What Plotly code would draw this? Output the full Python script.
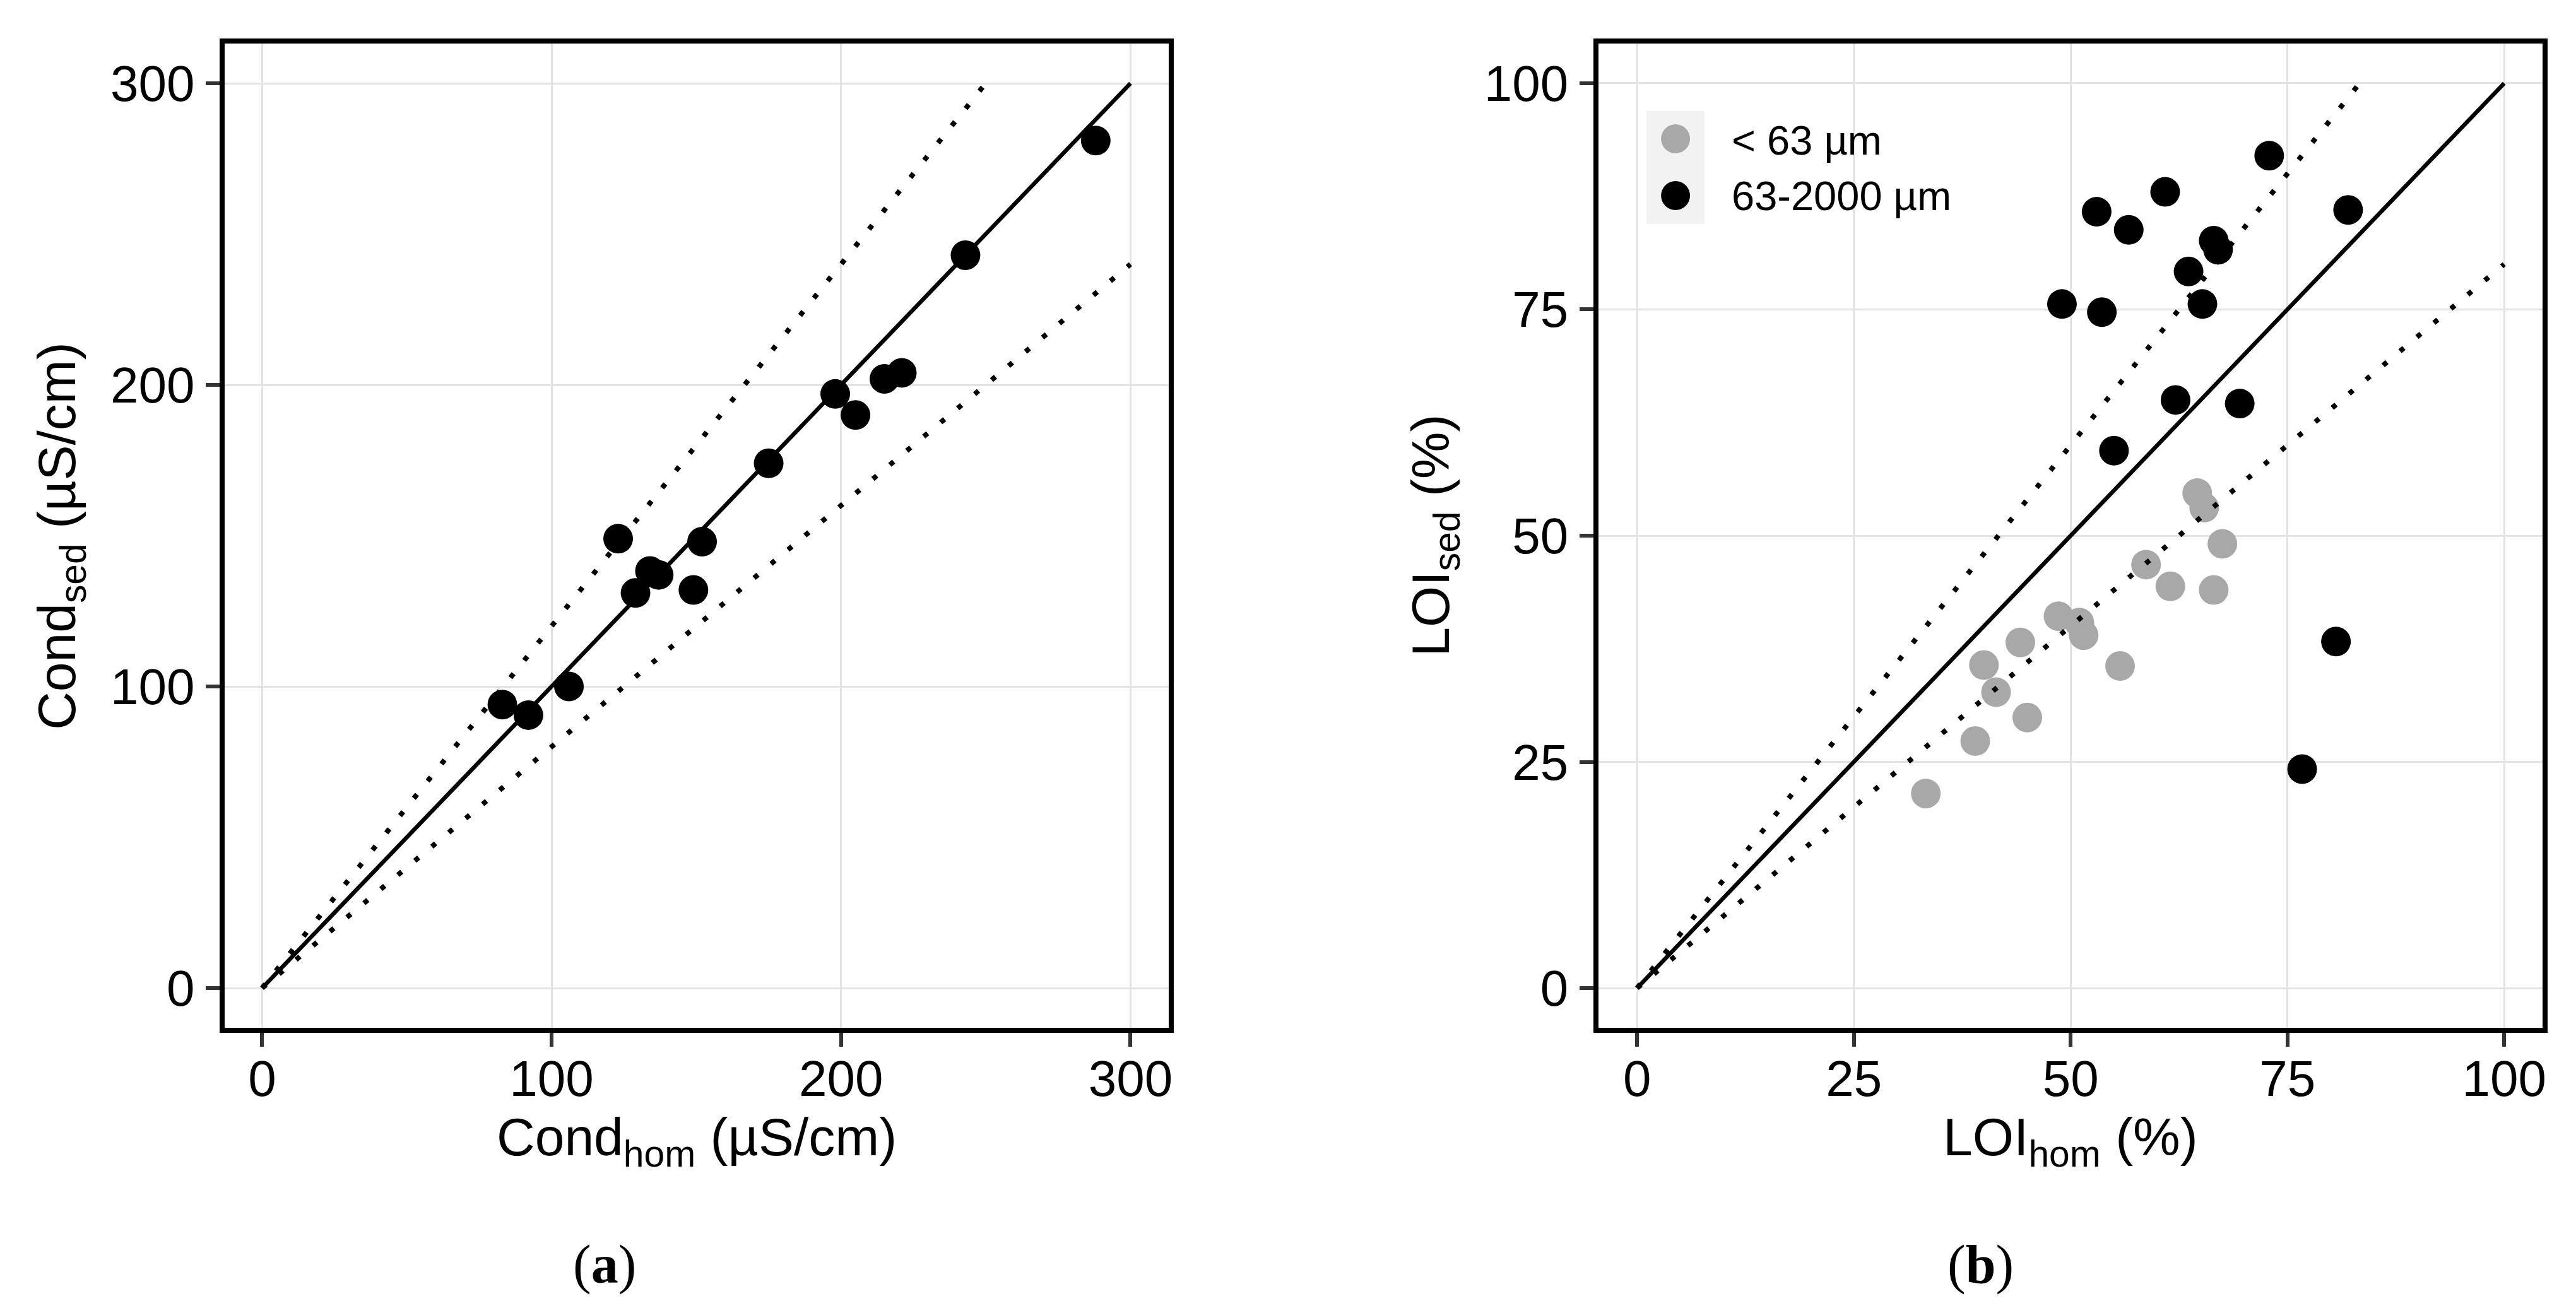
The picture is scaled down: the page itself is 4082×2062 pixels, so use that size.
import plotly.graph_objects as go

# panel (a): conductivity, homogenised vs sediment
cond_hom = [83, 92, 106, 123, 129, 134, 137, 149, 152, 175, 198, 205, 215, 221, 243, 288]
cond_sed = [94, 90.5, 100, 149, 131, 138.3, 137, 132, 148, 174, 197, 190, 202, 204, 243, 281]

# panel (b): loss on ignition, two size fractions
loi_hom_fine = [64.6, 65.4, 67.5, 58.7, 61.5, 66.5, 48.6, 51.0, 51.5, 44.2, 40.0, 55.7, 41.4, 45.0, 39.0, 33.3]
loi_sed_fine = [54.7, 53.1, 49.1, 46.8, 44.4, 44.0, 41.1, 40.4, 39.0, 38.2, 35.7, 35.6, 32.7, 29.9, 27.3, 21.5]
loi_hom_coarse = [72.9, 60.9, 53.0, 82.0, 56.7, 66.5, 67.0, 63.6, 49.0, 65.2, 53.6, 62.1, 69.5, 55.0, 80.6, 76.7]
loi_sed_coarse = [92.0, 88.0, 85.8, 86.0, 83.8, 82.6, 81.6, 79.2, 75.6, 75.6, 74.7, 65.0, 64.6, 59.4, 38.3, 24.2]

# reference lines (1:1 and +/-20 %)
ref_a = [0, 300]
upper_a = [0, 250]
lower_a = [0, 300]
ref_b = [0, 100]
upper_b = [0, 100 / 1.2]
lower_b = [0, 100]

legend_labels = ["< 63 µm", "63-2000 µm"]
grey = "#a8a8a8"

W, H = 4082, 2062
FONT = "Liberation Sans, Arial, sans-serif"


def px(x):
    return x / W


def py(y):
    return 1 - y / H


fig = go.Figure()

# points
fig.add_trace(go.Scatter(x=cond_hom, y=cond_sed, mode="markers",
                         marker=dict(color="black", size=47), xaxis="x", yaxis="y"))
fig.add_trace(go.Scatter(x=loi_hom_fine, y=loi_sed_fine, mode="markers",
                         marker=dict(color=grey, size=47), xaxis="x2", yaxis="y2"))
fig.add_trace(go.Scatter(x=loi_hom_coarse, y=loi_sed_coarse, mode="markers",
                         marker=dict(color="black", size=47), xaxis="x2", yaxis="y2"))

# lines on top of the points
dot = dict(color="black", width=8, dash="8px,27px")
solid = dict(color="black", width=6.5)
fig.add_trace(go.Scatter(x=ref_a, y=ref_a, mode="lines", line=solid, xaxis="x", yaxis="y"))
fig.add_trace(go.Scatter(x=upper_a, y=[v * 1.2 for v in upper_a], mode="lines", line=dot, xaxis="x", yaxis="y"))
fig.add_trace(go.Scatter(x=lower_a, y=[v * 0.8 for v in lower_a], mode="lines", line=dot, xaxis="x", yaxis="y"))
fig.add_trace(go.Scatter(x=ref_b, y=ref_b, mode="lines", line=solid, xaxis="x2", yaxis="y2"))
fig.add_trace(go.Scatter(x=upper_b, y=[v * 1.2 for v in upper_b], mode="lines", line=dot, xaxis="x2", yaxis="y2"))
fig.add_trace(go.Scatter(x=lower_b, y=[v * 0.8 for v in lower_b], mode="lines", line=dot, xaxis="x2", yaxis="y2"))

axis_style = dict(showline=True, mirror=True, linecolor="black", linewidth=8,
                  ticks="outside", ticklen=22, tickwidth=6, tickcolor="#333333",
                  showgrid=True, gridcolor="#e3e3e3", gridwidth=3, zeroline=False,
                  tickfont=dict(family=FONT, size=80, color="black"))

ydom = [py(1621), py(61)]

fig.update_layout(
    width=W, height=H,
    margin=dict(l=0, r=0, t=0, b=0),
    paper_bgcolor="white", plot_bgcolor="white",
    showlegend=False,
    xaxis=dict(domain=[px(349), px(1847)], range=[-12.84, 313.28], tickvals=[0, 100, 200, 300],
               anchor="y", ticklabelstandoff=-18, **axis_style),
    yaxis=dict(domain=ydom, range=[-13.18, 313.18], tickvals=[0, 100, 200, 300],
               anchor="x", ticklabelstandoff=2, **axis_style),
    xaxis2=dict(domain=[px(2529), px(4027)], range=[-4.43, 104.43], tickvals=[0, 25, 50, 75, 100],
                anchor="y2", ticklabelstandoff=-18, **axis_style),
    yaxis2=dict(domain=ydom, range=[-4.39, 104.39], tickvals=[0, 25, 50, 75, 100],
                anchor="x2", ticklabelstandoff=2, **axis_style),
)

title_font = dict(family=FONT, size=84, color="black")
annotations = [
    dict(text="Cond<sub>hom</sub> (µS/cm)", x=px(1098), y=py(1800), font=title_font),
    dict(text="Cond<sub>sed</sub> (µS/cm)", x=px(88), y=py(841), font=title_font, textangle=-90),
    dict(text="LOI<sub>hom</sub> (%)", x=px(3278), y=py(1800), font=title_font),
    dict(text="LOI<sub>sed</sub> (%)", x=px(2268), y=py(841), font=title_font, textangle=-90),
    dict(text="(<b>a</b>)", x=px(951), y=py(1996),
         font=dict(family="Liberation Serif, Times New Roman, serif", size=86, color="black")),
    dict(text="(<b>b</b>)", x=px(3135), y=py(1996),
         font=dict(family="Liberation Serif, Times New Roman, serif", size=86, color="black")),
]
# manual legend text
for label, yc in zip(legend_labels, [214, 302]):
    annotations.append(dict(text=label, x=px(2738), y=py(yc), xanchor="left",
                            font=dict(family=FONT, size=65, color="black")))
for a in annotations:
    a.update(xref="paper", yref="paper", showarrow=False)
    a.setdefault("xanchor", "center")
    a.setdefault("yanchor", "middle")
fig.update_layout(annotations=annotations)

# manual legend keys (grey key background + big circles)
shapes = [dict(type="rect", xref="paper", yref="paper",
               x0=px(2605), x1=px(2697), y0=py(347), y1=py(168),
               fillcolor="#f2f2f2", line=dict(width=0), layer="above")]
for col, yc in zip([grey, "black"], [212, 302]):
    shapes.append(dict(type="circle", xref="paper", yref="paper",
                       x0=px(2651 - 23), x1=px(2651 + 23), y0=py(yc + 23), y1=py(yc - 23),
                       fillcolor=col, line=dict(width=0), layer="above"))
fig.update_layout(shapes=shapes)

fig.write_html("out.html")
